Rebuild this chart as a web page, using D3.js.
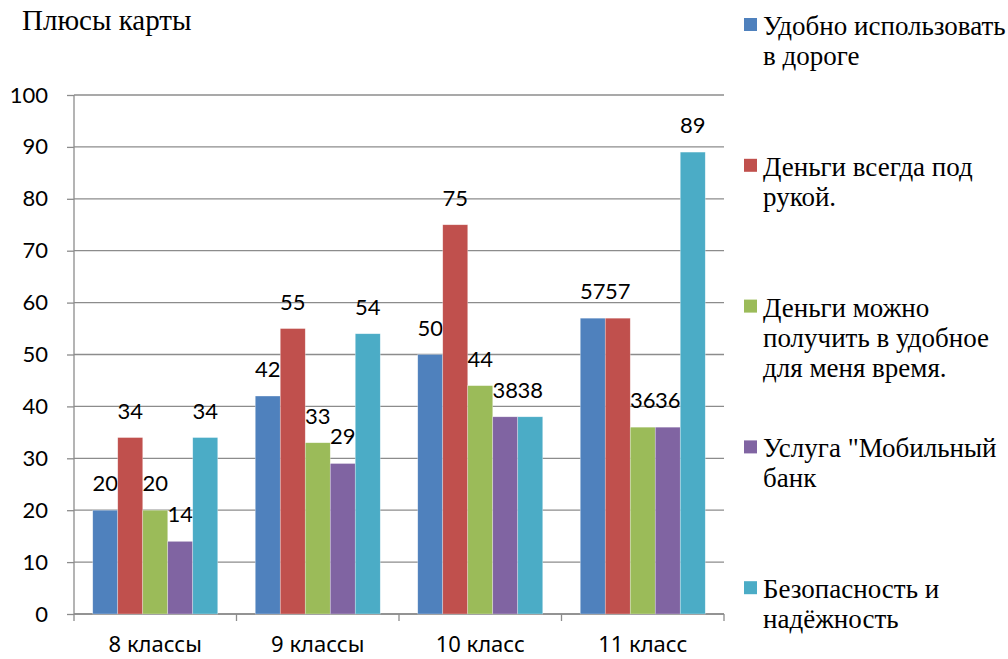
<!DOCTYPE html>
<html>
<head>
<meta charset="utf-8">
<script src="https://cdn.jsdelivr.net/npm/d3@7"></script>
<style>
  body { margin: 0; background: #fff; }
  svg { display: block; }
</style>
</head>
<body>
<div class="container"></div>
<script>
var width = 1008,
    height = 659;

var serifFont = "'Liberation Serif', 'DejaVu Serif', 'Noto Serif', 'Times New Roman', serif";
var numFont = "Lato, 'Noto Sans', sans-serif";
var catFont = "'Noto Sans', 'Open Sans', sans-serif";

var categories = ['8 классы', '9 классы', '10 класс', '11 класс'];
var seriesNames = [
    ['Удобно использовать', 'в дороге'],
    ['Деньги всегда под', 'рукой.'],
    ['Деньги можно', 'получить в удобное', 'для меня время.'],
    ['Услуга "Мобильный', 'банк'],
    ['Безопасность и', 'надёжность']
];
var colors = ['#4f81bd', '#c0504d', '#9bbb59', '#8064a2', '#4bacc6'];
var convenient = [20, 42, 50, 57];
var alwaysAtHand = [34, 55, 75, 57];
var anyTime = [20, 33, 44, 36];
var mobileBank = [14, 29, 38, 36];
var safety = [34, 54, 38, 89];
var yTicks = [0, 10, 20, 30, 40, 50, 60, 70, 80, 90, 100];

var values = [convenient, alwaysAtHand, anyTime, mobileBank, safety];

var plot = { left: 74, right: 724, top: 95, bottom: 614 };

var svg = d3.select('.container').append('svg')
    .attr('width', width)
    .attr('height', height);

var x0 = d3.scaleBand()
    .domain(categories)
    .range([plot.left, plot.right])
    .padding(0);

var x1 = d3.scaleBand()
    .domain(d3.range(values.length))
    .range([0, x0.bandwidth()])
    .paddingInner(0)
    .paddingOuter(0.75);

var y = d3.scaleLinear()
    .domain([0, 100])
    .range([plot.bottom, plot.top]);

// title
svg.append('text')
    .attr('x', 22)
    .attr('y', 30)
    .attr('font-family', serifFont)
    .attr('font-size', 29)
    .text('Плюсы карты');

// y axis labels + ticks
var yAxis = svg.append('g')
    .attr('transform', 'translate(' + plot.left + ',0)')
    .call(d3.axisLeft(y).tickValues(yTicks).tickSize(7).tickPadding(19));
yAxis.attr('font-family', numFont).attr('font-size', 22);
yAxis.select('.domain').remove();
yAxis.selectAll('line').attr('stroke', '#8c8c8c').attr('stroke-width', 1.3);
yAxis.selectAll('text').attr('fill', '#000');

// gridlines
svg.append('g').selectAll('line')
    .data(yTicks)
    .enter().append('line')
    .attr('x1', plot.left)
    .attr('x2', plot.right)
    .attr('y1', (d) => y(d))
    .attr('y2', (d) => y(d))
    .attr('stroke', '#8c8c8c')
    .attr('stroke-width', 1.3);

svg.append('line')
    .attr('x1', plot.left).attr('x2', plot.left)
    .attr('y1', plot.top).attr('y2', plot.bottom)
    .attr('stroke', '#8c8c8c')
    .attr('stroke-width', 1.3);

// x axis
var xAxis = svg.append('g')
    .attr('transform', 'translate(0,' + plot.bottom + ')');
xAxis.append('line')
    .attr('x1', plot.left).attr('x2', plot.right)
    .attr('stroke', '#8c8c8c').attr('stroke-width', 1.3);
xAxis.selectAll('.tick')
    .data(categories.map((c) => x0(c)).concat([plot.right]))
    .enter().append('line')
    .attr('x1', (d) => d).attr('x2', (d) => d)
    .attr('y1', 0).attr('y2', 7)
    .attr('stroke', '#8c8c8c').attr('stroke-width', 1.3);
xAxis.selectAll('text')
    .data(categories)
    .enter().append('text')
    .attr('x', (d) => x0(d) + x0.bandwidth() / 2)
    .attr('y', 38)
    .attr('text-anchor', 'middle')
    .attr('font-family', catFont)
    .attr('font-size', 22)
    .text((d) => d);

// bars
var groups = svg.append('g').selectAll('g')
    .data(categories)
    .enter().append('g')
    .attr('transform', (d) => 'translate(' + x0(d) + ',0)');

var cells = groups.selectAll('g')
    .data((c, ci) => values.map((s, si) => ({ si: si, v: s[ci] })))
    .enter().append('g');

cells.append('rect')
    .attr('x', (d) => x1(d.si))
    .attr('width', x1.bandwidth())
    .attr('y', (d) => y(d.v))
    .attr('height', (d) => y(0) - y(d.v))
    .attr('fill', (d) => colors[d.si])
    .attr('stroke', '#fff')
    .attr('stroke-opacity', 0.5)
    .attr('stroke-width', 0.6);

cells.append('text')
    .attr('x', (d) => x1(d.si) + x1.bandwidth() / 2)
    .attr('y', (d) => y(d.v) - 19)
    .attr('text-anchor', 'middle')
    .attr('font-family', numFont)
    .attr('font-size', 22)
    .text((d) => d.v);

// legend
var legend = svg.append('g').selectAll('g')
    .data(seriesNames)
    .enter().append('g')
    .attr('transform', (d, i) => 'translate(744,' + (25 + i * 140.8) + ')');

legend.append('rect')
    .attr('x', 0)
    .attr('y', -7)
    .attr('width', 13)
    .attr('height', 13)
    .attr('fill', (d, i) => colors[i]);

legend.append('text')
    .attr('font-family', serifFont)
    .attr('font-size', 27)
    .selectAll('tspan')
    .data((d) => d)
    .enter().append('tspan')
    .attr('x', 19)
    .attr('y', (d, i) => 10 + i * 30)
    .text((d) => d);
</script>
</body>
</html>
